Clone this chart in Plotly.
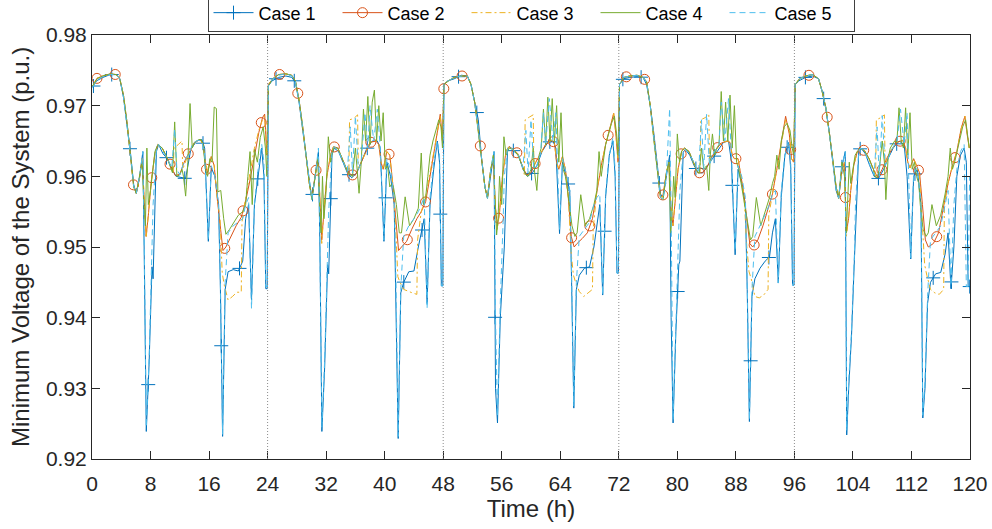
import numpy as np
import plotly.graph_objects as go

# ---------------- data (relative hour within each day, values per day) ----------------
DAYS = 5
day_boundaries = [24, 48, 72, 96]
x_ticks = list(range(0, 121, 8))
y_ticks = [0.92, 0.93, 0.94, 0.95, 0.96, 0.97, 0.98]

c1_r = [0.1, 0.6, 1.5, 2.5, 3.3, 3.8, 4.3, 4.8, 5.25, 5.7,
        6.05, 6.5, 6.95, 7.15, 7.42, 7.8, 8.2, 8.35, 8.8, 9.1,
        9.7, 10.3, 10.9, 11.5, 12.2, 12.8, 13.5, 14.3, 15.0, 15.4,
        15.9, 16.3, 16.8, 17.3, 17.55, 17.85, 18.2, 18.6, 19.3, 20.0,
        20.6, 21.0, 21.4, 21.8, 22.2, 22.7, 23.2, 23.5, 23.75, 23.95]
c1_d1 = [0.9726, 0.9735, 0.9740, 0.9744, 0.9744, 0.9738, 0.9712, 0.9672, 0.9634, 0.9588,
         0.9576, 0.9598, 0.9635, 0.9480, 0.9239, 0.9334, 0.9472, 0.9455, 0.9635, 0.9645,
         0.9632, 0.9625, 0.9610, 0.9600, 0.9598, 0.9597, 0.9638, 0.9650, 0.9652, 0.9640,
         0.9508, 0.9612, 0.9600, 0.9560, 0.9440, 0.9232, 0.9440, 0.9465, 0.9468, 0.9466,
         0.9480, 0.9540, 0.9560, 0.9425, 0.9560, 0.9600, 0.9640, 0.9600, 0.9441, 0.9441]
c1_d2 = [0.9728, 0.9735, 0.9740, 0.9742, 0.9740, 0.9733, 0.9705, 0.9665, 0.9630, 0.9590,
         0.9568, 0.9600, 0.9635, 0.9500, 0.9239, 0.9330, 0.9475, 0.9462, 0.9630, 0.9640,
         0.9635, 0.9620, 0.9605, 0.9598, 0.9605, 0.9620, 0.9638, 0.9650, 0.9650, 0.9640,
         0.9508, 0.9620, 0.9600, 0.9560, 0.9430, 0.9229, 0.9435, 0.9450, 0.9465, 0.9466,
         0.9500, 0.9518, 0.9540, 0.9420, 0.9560, 0.9610, 0.9650, 0.9620, 0.9445, 0.9445]
c1_d3 = [0.9730, 0.9735, 0.9738, 0.9743, 0.9742, 0.9730, 0.9705, 0.9680, 0.9625, 0.9585,
         0.9569, 0.9605, 0.9635, 0.9300, 0.9251, 0.9400, 0.9465, 0.9500, 0.9640, 0.9642,
         0.9635, 0.9630, 0.9610, 0.9600, 0.9605, 0.9615, 0.9635, 0.9648, 0.9650, 0.9640,
         0.9519, 0.9620, 0.9600, 0.9580, 0.9450, 0.9272, 0.9440, 0.9460, 0.9470, 0.9472,
         0.9500, 0.9530, 0.9560, 0.9432, 0.9571, 0.9630, 0.9650, 0.9600, 0.9463, 0.9463]
c1_d4 = [0.9730, 0.9738, 0.9740, 0.9741, 0.9740, 0.9730, 0.9700, 0.9660, 0.9620, 0.9575,
         0.9570, 0.9600, 0.9630, 0.9400, 0.9251, 0.9380, 0.9475, 0.9480, 0.9634, 0.9638,
         0.9630, 0.9615, 0.9605, 0.9605, 0.9615, 0.9625, 0.9636, 0.9648, 0.9650, 0.9620,
         0.9489, 0.9610, 0.9590, 0.9560, 0.9440, 0.9253, 0.9430, 0.9455, 0.9470, 0.9480,
         0.9486, 0.9520, 0.9540, 0.9449, 0.9570, 0.9630, 0.9648, 0.9610, 0.9446, 0.9446]
c1_d5 = [0.9730, 0.9735, 0.9740, 0.9742, 0.9738, 0.9720, 0.9695, 0.9660, 0.9620, 0.9580,
         0.9569, 0.9614, 0.9635, 0.9234, 0.9300, 0.9373, 0.9482, 0.9520, 0.9637, 0.9640,
         0.9632, 0.9615, 0.9600, 0.9597, 0.9610, 0.9625, 0.9640, 0.9650, 0.9645, 0.9600,
         0.9483, 0.9600, 0.9610, 0.9560, 0.9258, 0.9300, 0.9420, 0.9450, 0.9462, 0.9464,
         0.9490, 0.9520, 0.9441, 0.9500, 0.9600, 0.9630, 0.9640, 0.9620, 0.9444, 0.9444]

c2_r = [0.1, 0.7, 1.5, 2.5, 3.3, 3.8, 4.3, 4.8, 5.3, 5.7,
        6.05, 6.5, 6.85, 7.1, 7.4, 7.7, 8.1, 8.6, 9.0, 9.6,
        10.2, 10.8, 11.4, 12.0, 12.6, 13.3, 14.0, 14.8, 15.2, 15.5,
        15.8, 16.3, 16.7, 17.1, 17.5, 17.9, 18.3, 19.0, 19.7, 20.4,
        21.0, 21.6, 22.2, 22.8, 23.3, 23.6, 23.9]
c2_d1 = [0.9728, 0.9739, 0.9742, 0.9745, 0.9744, 0.9738, 0.9715, 0.9675, 0.9625, 0.9585,
         0.9576, 0.9598, 0.9625, 0.9570, 0.9515, 0.9545, 0.9593, 0.9632, 0.9645, 0.9640,
         0.9628, 0.9614, 0.9601, 0.9603, 0.9620, 0.9635, 0.9648, 0.9652, 0.9645, 0.9615,
         0.9605, 0.9628, 0.9615, 0.9570, 0.9530, 0.9495, 0.9500, 0.9515, 0.9530, 0.9542,
         0.9565, 0.9595, 0.9630, 0.9662, 0.9683, 0.9688, 0.9630]
c2_d2 = [0.9730, 0.9738, 0.9744, 0.9745, 0.9743, 0.9735, 0.9708, 0.9670, 0.9625, 0.9590,
         0.9570, 0.9600, 0.9625, 0.9580, 0.9510, 0.9550, 0.9600, 0.9630, 0.9642, 0.9640,
         0.9625, 0.9610, 0.9602, 0.9602, 0.9615, 0.9632, 0.9648, 0.9650, 0.9645, 0.9620,
         0.9610, 0.9635, 0.9630, 0.9590, 0.9540, 0.9495, 0.9500, 0.9508, 0.9525, 0.9540,
         0.9550, 0.9564, 0.9600, 0.9640, 0.9670, 0.9688, 0.9650]
c2_d3 = [0.9730, 0.9735, 0.9740, 0.9742, 0.9742, 0.9730, 0.9705, 0.9665, 0.9625, 0.9585,
         0.9570, 0.9610, 0.9625, 0.9560, 0.9530, 0.9549, 0.9600, 0.9636, 0.9642, 0.9638,
         0.9632, 0.9615, 0.9602, 0.9605, 0.9619, 0.9632, 0.9645, 0.9651, 0.9648, 0.9620,
         0.9610, 0.9628, 0.9610, 0.9570, 0.9515, 0.9500, 0.9505, 0.9512, 0.9520, 0.9540,
         0.9580, 0.9615, 0.9645, 0.9668, 0.9689, 0.9660, 0.9620]
c2_d4 = [0.9730, 0.9740, 0.9742, 0.9743, 0.9740, 0.9734, 0.9700, 0.9650, 0.9605, 0.9570,
         0.9574, 0.9605, 0.9620, 0.9560, 0.9530, 0.9560, 0.9610, 0.9636, 0.9640, 0.9635,
         0.9620, 0.9605, 0.9605, 0.9612, 0.9625, 0.9638, 0.9647, 0.9650, 0.9648, 0.9630,
         0.9625, 0.9625, 0.9600, 0.9575, 0.9540, 0.9505, 0.9500, 0.9510, 0.9530, 0.9555,
         0.9575, 0.9610, 0.9650, 0.9685, 0.9660, 0.9625, 0.9620]
c2_d5 = [0.9730, 0.9738, 0.9742, 0.9744, 0.9738, 0.9720, 0.9697, 0.9660, 0.9620, 0.9585,
         0.9569, 0.9610, 0.9620, 0.9520, 0.9540, 0.9580, 0.9615, 0.9635, 0.9640, 0.9636,
         0.9625, 0.9610, 0.9598, 0.9610, 0.9625, 0.9638, 0.9648, 0.9651, 0.9640, 0.9620,
         0.9612, 0.9625, 0.9615, 0.9605, 0.9560, 0.9510, 0.9500, 0.9505, 0.9520, 0.9560,
         0.9590, 0.9615, 0.9635, 0.9668, 0.9685, 0.9660, 0.9640]

c3_r = [0.1, 0.7, 1.5, 2.5, 3.3, 3.8, 4.3, 4.8, 5.3, 5.7,
        6.05, 6.5, 6.85, 7.1, 7.4, 7.7, 8.1, 8.6, 9.0, 9.6,
        10.2, 10.8, 11.1, 11.2, 11.8, 12.3, 12.4, 12.8, 13.3, 14.0,
        14.8, 15.2, 15.5, 15.8, 16.3, 16.7, 17.1, 17.5, 17.8, 18.1,
        18.6, 19.2, 19.8, 20.4, 20.5, 21.0, 21.6, 22.2, 22.8, 23.3,
        23.6, 23.9]
c3_d1 = [0.9728, 0.9739, 0.9742, 0.9745, 0.9744, 0.9738, 0.9715, 0.9675, 0.9625, 0.9585,
         0.9576, 0.9598, 0.9625, 0.9570, 0.9513, 0.9545, 0.9593, 0.9632, 0.9645, 0.9640,
         0.9628, 0.9614, 0.9605, 0.9640, 0.9645, 0.9650, 0.9610, 0.9622, 0.9635, 0.9648,
         0.9652, 0.9645, 0.9620, 0.9608, 0.9628, 0.9615, 0.9570, 0.9540, 0.9463, 0.9445,
         0.9425, 0.9430, 0.9436, 0.9436, 0.9535, 0.9570, 0.9608, 0.9640, 0.9665, 0.9680,
         0.9685, 0.9630]
c3_d2 = [0.9730, 0.9738, 0.9744, 0.9745, 0.9743, 0.9735, 0.9708, 0.9670, 0.9625, 0.9590,
         0.9570, 0.9600, 0.9625, 0.9580, 0.9505, 0.9550, 0.9600, 0.9630, 0.9642, 0.9640,
         0.9625, 0.9610, 0.9602, 0.9680, 0.9682, 0.9687, 0.9610, 0.9620, 0.9632, 0.9648,
         0.9650, 0.9645, 0.9620, 0.9610, 0.9635, 0.9630, 0.9590, 0.9530, 0.9458, 0.9450,
         0.9440, 0.9437, 0.9435, 0.9433, 0.9510, 0.9550, 0.9570, 0.9605, 0.9640, 0.9670,
         0.9685, 0.9650]
c3_d3 = [0.9730, 0.9735, 0.9740, 0.9742, 0.9742, 0.9730, 0.9705, 0.9665, 0.9625, 0.9585,
         0.9570, 0.9610, 0.9625, 0.9560, 0.9525, 0.9549, 0.9600, 0.9636, 0.9642, 0.9638,
         0.9632, 0.9615, 0.9602, 0.9680, 0.9684, 0.9687, 0.9615, 0.9622, 0.9632, 0.9645,
         0.9651, 0.9648, 0.9620, 0.9610, 0.9628, 0.9610, 0.9570, 0.9490, 0.9460, 0.9450,
         0.9437, 0.9430, 0.9435, 0.9440, 0.9525, 0.9580, 0.9615, 0.9645, 0.9668, 0.9689,
         0.9660, 0.9620]
c3_d4 = [0.9730, 0.9740, 0.9742, 0.9743, 0.9740, 0.9734, 0.9700, 0.9650, 0.9605, 0.9570,
         0.9572, 0.9605, 0.9620, 0.9560, 0.9530, 0.9560, 0.9610, 0.9636, 0.9640, 0.9635,
         0.9620, 0.9605, 0.9605, 0.9680, 0.9683, 0.9688, 0.9618, 0.9628, 0.9638, 0.9647,
         0.9650, 0.9648, 0.9630, 0.9625, 0.9625, 0.9600, 0.9575, 0.9500, 0.9465, 0.9455,
         0.9430, 0.9428, 0.9432, 0.9440, 0.9545, 0.9575, 0.9610, 0.9650, 0.9680, 0.9665,
         0.9625, 0.9620]
c3_d5 = [0.9730, 0.9738, 0.9742, 0.9744, 0.9738, 0.9720, 0.9697, 0.9660, 0.9620, 0.9585,
         0.9569, 0.9610, 0.9620, 0.9515, 0.9540, 0.9580, 0.9615, 0.9635, 0.9640, 0.9636,
         0.9625, 0.9610, 0.9600, 0.9680, 0.9683, 0.9687, 0.9615, 0.9628, 0.9638, 0.9648,
         0.9651, 0.9640, 0.9620, 0.9612, 0.9625, 0.9615, 0.9600, 0.9530, 0.9475, 0.9460,
         0.9440, 0.9435, 0.9433, 0.9440, 0.9560, 0.9590, 0.9615, 0.9635, 0.9668, 0.9685,
         0.9660, 0.9640]

c4_r = [0.1, 0.7, 1.5, 2.5, 3.3, 3.8, 4.3, 4.8, 5.3, 5.7,
        6.05, 6.5, 6.85, 7.1, 7.3, 7.5, 7.7, 8.0, 8.3, 8.6,
        9.0, 9.6, 10.2, 10.8, 11.0, 11.3, 11.6, 12.0, 12.3, 12.5,
        12.8, 13.1, 13.4, 13.7, 14.0, 14.3, 14.6, 14.9, 15.2, 15.5,
        15.8, 16.1, 16.4, 16.7, 17.0, 17.2, 17.6, 18.0, 18.3, 18.8,
        19.4, 20.0, 20.6, 21.0, 21.3, 21.6, 21.9, 22.2, 22.6, 23.0,
        23.4, 23.7, 23.9]
c4_d1 = [0.9728, 0.9738, 0.9742, 0.9745, 0.9744, 0.9738, 0.9715, 0.9675, 0.9625, 0.9585,
         0.9576, 0.9600, 0.9620, 0.9560, 0.9530, 0.9640, 0.9560, 0.9580, 0.9610, 0.9635,
         0.9645, 0.9640, 0.9628, 0.9612, 0.9605, 0.9677, 0.9600, 0.9602, 0.9610, 0.9600,
         0.9572, 0.9620, 0.9703, 0.9640, 0.9648, 0.9650, 0.9652, 0.9652, 0.9645, 0.9610,
         0.9600, 0.9625, 0.9620, 0.9698, 0.9696, 0.9578, 0.9580, 0.9540, 0.9518, 0.9525,
         0.9535, 0.9545, 0.9550, 0.9560, 0.9600, 0.9635, 0.9560, 0.9638, 0.9620, 0.9655,
         0.9670, 0.9640, 0.9600]
c4_d2 = [0.9728, 0.9738, 0.9744, 0.9745, 0.9743, 0.9735, 0.9708, 0.9670, 0.9625, 0.9590,
         0.9567, 0.9600, 0.9625, 0.9560, 0.9520, 0.9600, 0.9540, 0.9580, 0.9656, 0.9620,
         0.9640, 0.9640, 0.9625, 0.9610, 0.9605, 0.9602, 0.9600, 0.9640, 0.9600, 0.9576,
         0.9620, 0.9695, 0.9650, 0.9713, 0.9645, 0.9705, 0.9722, 0.9650, 0.9700, 0.9650,
         0.9690, 0.9610, 0.9615, 0.9585, 0.9590, 0.9585, 0.9560, 0.9520, 0.9520, 0.9571,
         0.9530, 0.9540, 0.9555, 0.9633, 0.9560, 0.9570, 0.9600, 0.9630, 0.9650, 0.9665,
         0.9680, 0.9670, 0.9640]
c4_d3 = [0.9730, 0.9735, 0.9740, 0.9742, 0.9742, 0.9730, 0.9705, 0.9665, 0.9625, 0.9585,
         0.9569, 0.9610, 0.9630, 0.9560, 0.9517, 0.9540, 0.9600, 0.9560, 0.9656, 0.9630,
         0.9640, 0.9638, 0.9630, 0.9615, 0.9610, 0.9602, 0.9600, 0.9610, 0.9640, 0.9605,
         0.9580, 0.9630, 0.9640, 0.9695, 0.9645, 0.9712, 0.9650, 0.9710, 0.9648, 0.9700,
         0.9620, 0.9690, 0.9610, 0.9600, 0.9580, 0.9560, 0.9530, 0.9515, 0.9520, 0.9574,
         0.9530, 0.9540, 0.9560, 0.9580, 0.9635, 0.9600, 0.9620, 0.9645, 0.9660, 0.9675,
         0.9685, 0.9660, 0.9630]
c4_d4 = [0.9730, 0.9740, 0.9742, 0.9743, 0.9740, 0.9734, 0.9700, 0.9650, 0.9605, 0.9570,
         0.9567, 0.9605, 0.9620, 0.9520, 0.9550, 0.9600, 0.9570, 0.9660, 0.9620, 0.9636,
         0.9640, 0.9635, 0.9620, 0.9605, 0.9605, 0.9640, 0.9610, 0.9615, 0.9580, 0.9630,
         0.9660, 0.9630, 0.9640, 0.9645, 0.9720, 0.9650, 0.9705, 0.9650, 0.9715, 0.9640,
         0.9700, 0.9620, 0.9610, 0.9590, 0.9570, 0.9560, 0.9530, 0.9510, 0.9515, 0.9570,
         0.9530, 0.9550, 0.9570, 0.9590, 0.9600, 0.9630, 0.9610, 0.9650, 0.9670, 0.9675,
         0.9665, 0.9640, 0.9630]
c4_d5 = [0.9730, 0.9738, 0.9742, 0.9744, 0.9738, 0.9720, 0.9697, 0.9660, 0.9620, 0.9585,
         0.9569, 0.9620, 0.9600, 0.9520, 0.9560, 0.9620, 0.9590, 0.9610, 0.9630, 0.9635,
         0.9640, 0.9636, 0.9625, 0.9610, 0.9600, 0.9598, 0.9610, 0.9650, 0.9620, 0.9567,
         0.9625, 0.9640, 0.9645, 0.9650, 0.9648, 0.9697, 0.9650, 0.9640, 0.9697, 0.9630,
         0.9690, 0.9610, 0.9620, 0.9600, 0.9590, 0.9560, 0.9525, 0.9515, 0.9520, 0.9560,
         0.9530, 0.9545, 0.9575, 0.9600, 0.9640, 0.9610, 0.9620, 0.9635, 0.9655, 0.9670,
         0.9680, 0.9660, 0.9640]

c5_r = [0.1, 0.7, 1.5, 2.5, 3.3, 3.8, 4.3, 4.8, 5.3, 5.7,
        6.05, 6.5, 6.95, 7.15, 7.42, 7.8, 8.2, 8.35, 8.8, 9.1,
        9.7, 10.3, 10.9, 11.3, 11.6, 12.0, 12.4, 12.8, 13.3, 13.7,
        14.0, 14.5, 15.0, 15.4, 15.9, 16.3, 16.8, 17.3, 17.55, 17.85,
        18.2, 18.6, 19.3, 20.0, 20.6, 21.0, 21.4, 21.8, 22.2, 22.7,
        23.2, 23.5, 23.75, 23.95]
c5_d1 = [0.9726, 0.9736, 0.9741, 0.9744, 0.9744, 0.9738, 0.9712, 0.9672, 0.9628, 0.9586,
         0.9576, 0.9600, 0.9635, 0.9500, 0.9245, 0.9340, 0.9500, 0.9560, 0.9638, 0.9645,
         0.9635, 0.9625, 0.9612, 0.9667, 0.9610, 0.9602, 0.9615, 0.9625, 0.9632, 0.9645,
         0.9648, 0.9651, 0.9650, 0.9630, 0.9510, 0.9615, 0.9600, 0.9560, 0.9450, 0.9235,
         0.9450, 0.9520, 0.9530, 0.9535, 0.9540, 0.9560, 0.9570, 0.9413, 0.9560, 0.9610,
         0.9645, 0.9620, 0.9444, 0.9444]
c5_d2 = [0.9728, 0.9738, 0.9743, 0.9745, 0.9742, 0.9734, 0.9706, 0.9668, 0.9625, 0.9590,
         0.9567, 0.9600, 0.9640, 0.9500, 0.9245, 0.9340, 0.9480, 0.9550, 0.9635, 0.9642,
         0.9636, 0.9622, 0.9607, 0.9670, 0.9605, 0.9685, 0.9610, 0.9620, 0.9690, 0.9640,
         0.9700, 0.9650, 0.9695, 0.9640, 0.9510, 0.9625, 0.9610, 0.9570, 0.9450, 0.9232,
         0.9440, 0.9515, 0.9530, 0.9540, 0.9550, 0.9560, 0.9570, 0.9413, 0.9570, 0.9620,
         0.9650, 0.9630, 0.9445, 0.9445]
c5_d3 = [0.9730, 0.9735, 0.9740, 0.9742, 0.9742, 0.9730, 0.9704, 0.9665, 0.9625, 0.9585,
         0.9569, 0.9610, 0.9635, 0.9400, 0.9260, 0.9420, 0.9540, 0.9600, 0.9640, 0.9642,
         0.9636, 0.9630, 0.9612, 0.9665, 0.9605, 0.9680, 0.9610, 0.9615, 0.9632, 0.9690,
         0.9645, 0.9710, 0.9650, 0.9690, 0.9525, 0.9625, 0.9605, 0.9580, 0.9460, 0.9275,
         0.9450, 0.9515, 0.9525, 0.9535, 0.9560, 0.9570, 0.9575, 0.9432, 0.9575, 0.9630,
         0.9655, 0.9610, 0.9463, 0.9463]
c5_d4 = [0.9730, 0.9740, 0.9742, 0.9743, 0.9740, 0.9733, 0.9700, 0.9650, 0.9605, 0.9570,
         0.9567, 0.9600, 0.9696, 0.9550, 0.9255, 0.9380, 0.9500, 0.9580, 0.9634, 0.9638,
         0.9632, 0.9618, 0.9605, 0.9680, 0.9610, 0.9688, 0.9615, 0.9630, 0.9638, 0.9645,
         0.9705, 0.9650, 0.9710, 0.9630, 0.9495, 0.9615, 0.9600, 0.9570, 0.9450, 0.9255,
         0.9440, 0.9515, 0.9530, 0.9545, 0.9560, 0.9575, 0.9580, 0.9449, 0.9580, 0.9630,
         0.9650, 0.9620, 0.9446, 0.9446]
c5_d5 = [0.9730, 0.9738, 0.9742, 0.9744, 0.9738, 0.9720, 0.9697, 0.9660, 0.9620, 0.9582,
         0.9569, 0.9615, 0.9635, 0.9240, 0.9310, 0.9380, 0.9490, 0.9560, 0.9637, 0.9640,
         0.9632, 0.9618, 0.9602, 0.9670, 0.9600, 0.9686, 0.9615, 0.9625, 0.9638, 0.9645,
         0.9648, 0.9695, 0.9645, 0.9690, 0.9485, 0.9605, 0.9612, 0.9560, 0.9262, 0.9310,
         0.9430, 0.9510, 0.9520, 0.9530, 0.9560, 0.9580, 0.9445, 0.9560, 0.9610, 0.9635,
         0.9645, 0.9444, 0.9444, 0.9600]

# ---------------- build series ----------------
def build(rel, days):
    t, v = [], []
    for d, vals in enumerate(days):
        assert len(vals) == len(rel)
        t += [24 * d + r for r in rel]
        v += list(vals)
    return np.array(t), np.array(v)

series = [
    ("Case 1", build(c1_r, [c1_d1, c1_d2, c1_d3, c1_d4, c1_d5])),
    ("Case 2", build(c2_r, [c2_d1, c2_d2, c2_d3, c2_d4, c2_d5])),
    ("Case 3", build(c3_r, [c3_d1, c3_d2, c3_d3, c3_d4, c3_d5])),
    ("Case 4", build(c4_r, [c4_d1, c4_d2, c4_d3, c4_d4, c4_d5])),
    ("Case 5", build(c5_r, [c5_d1, c5_d2, c5_d3, c5_d4, c5_d5])),
]

colors = ["#0072BD", "#D95319", "#EDB120", "#77AC30", "#4DBEEE"]
dashes = ["solid", "solid", "6px,3px,2px,3px", "solid", "6px,4px"]
markers = {0: ("cross-thin-open", 0.2), 1: ("circle-open", 0.68)}
marker_step = 2.495

FONT = "Liberation Sans, Arial, Helvetica, sans-serif"
AX = "#262626"
y_title = "Minimum Voltage of the System (p.u.)"

fig = go.Figure()
for i, (name, (t, v)) in enumerate(series):
    has_m = i in markers
    fig.add_trace(go.Scatter(x=t, y=v, mode="lines", name=name,
                             line=dict(color=colors[i], width=1, dash=dashes[i]),
                             showlegend=not has_m, hoverinfo="skip"))
    if has_m:
        sym, start = markers[i]
        mt = np.arange(start, 120, marker_step)
        mv = np.interp(mt, t, v)
        mk = dict(symbol=sym, size=10, color=colors[i],
                  line=dict(color=colors[i], width=1))
        fig.add_trace(go.Scatter(x=mt, y=mv, mode="markers", marker=mk,
                                 showlegend=False, hoverinfo="skip"))
        fig.add_trace(go.Scatter(x=[None], y=[None], mode="lines+markers", name=name,
                                 line=dict(color=colors[i], width=1), marker=mk))

for xb in day_boundaries:
    fig.add_vline(x=xb, line=dict(color="#8c8c8c", width=1, dash="1px,2px"))

axis_common = dict(showline=True, linecolor=AX, linewidth=1, mirror="ticks",
                   ticks="inside", ticklen=8, tickwidth=1, tickcolor=AX,
                   showgrid=False, zeroline=False,
                   tickfont=dict(family=FONT, size=21, color=AX))

# y-axis title placed as a rotated annotation (exact position control)
fig.add_annotation(text=y_title, textangle=-90, xref="paper", yref="paper",
                   x=-72 / 878, y=0.5, xanchor="center", yanchor="middle",
                   showarrow=False, font=dict(family=FONT, size=24, color=AX))

fig.update_layout(
    width=992, height=529,
    margin=dict(l=92, r=22, t=35, b=70, autoexpand=False),
    paper_bgcolor="white", plot_bgcolor="white",
    font=dict(family=FONT, color=AX),
    xaxis=dict(range=[0, 120], tickvals=x_ticks, ticklabelstandoff=6,
               title=dict(text="Time (h)", font=dict(family=FONT, size=24, color=AX), standoff=2),
               **axis_common),
    yaxis=dict(range=[0.92, 0.98], tickvals=y_ticks, tickformat=".2f",
               ticksuffix="\u00a0\u00a0", **axis_common),
    legend=dict(orientation="h", x=0.5, xanchor="center", y=1.006, yanchor="bottom",
                bgcolor="white", bordercolor="#404040", borderwidth=1,
                font=dict(family=FONT, size=18, color="black"),
                entrywidth=74, entrywidthmode="pixels", itemwidth=40,
                tracegroupgap=0),
)

fig.write_html("out.html")
